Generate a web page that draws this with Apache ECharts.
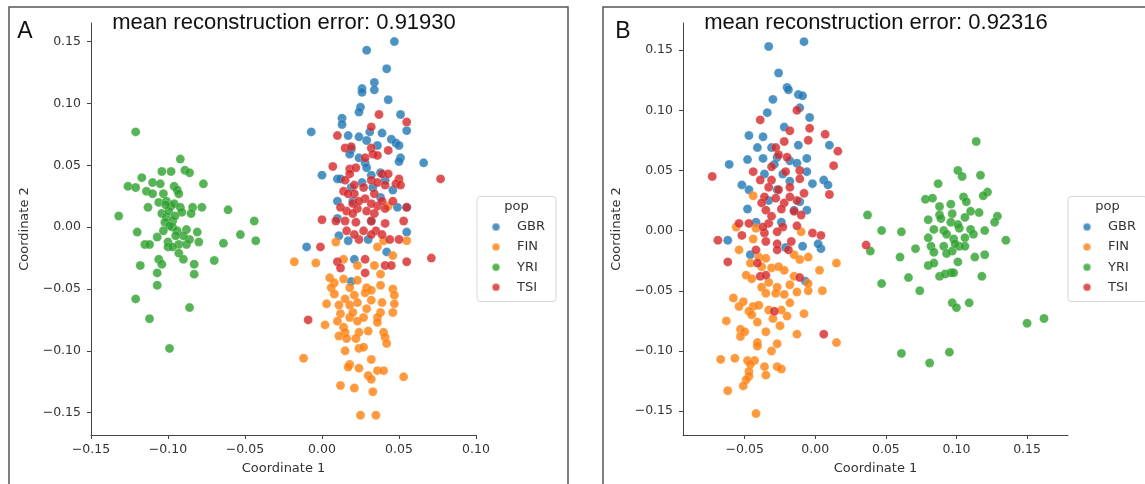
<!DOCTYPE html>
<html>
<head>
<meta charset="utf-8">
<script src="https://cdn.jsdelivr.net/npm/echarts@6/dist/echarts.min.js"></script>
<style>html,body{margin:0;padding:0;background:#fff}#c{width:1145px;height:484px}</style>
</head>
<body>
<div id="c"></div>
<script>
// ---------- data (Coordinate 1, Coordinate 2) ----------
const populations = ['GBR', 'FIN', 'YRI', 'TSI'];
const titlesText = ['mean reconstruction error: 0.91930', 'mean reconstruction error: 0.92316'];
const panelLetters = ['A', 'B'];
const tickValuesX_A = [-0.15, -0.10, -0.05, 0.00, 0.05, 0.10];
const tickValuesX_B = [-0.05, 0.00, 0.05, 0.10, 0.15];
const tickValuesY = [-0.15, -0.10, -0.05, 0.00, 0.05, 0.10, 0.15];

const GBR_A = [[0.047,0.150],[0.029,0.143],[0.042,0.128],[0.034,0.117],[0.034,0.111],[0.026,0.112],[0.026,0.109],[0.043,0.103],[0.025,0.097],[0.024,0.093],[0.051,0.091],[0.013,0.088],[0.013,0.083],[0.055,0.078],[-0.007,0.077],[0.039,0.076],[0.031,0.077],[0.017,0.074],[0.024,0.073],[0.029,0.070],[0.045,0.071],[0.048,0.068],[0.050,0.066],[0.036,0.066],[0.019,0.063],[0.051,0.056],[0.018,0.059],[0.024,0.056],[0.066,0.052],[0.050,0.053],[0.028,0.052],[0.029,0.048],[0.000,0.042],[0.010,0.039],[0.012,0.039],[0.032,0.042],[0.038,0.044],[0.046,0.030],[0.010,0.021],[0.049,0.016],[0.055,0.016],[0.032,0.005],[0.010,0.007],[0.055,-0.004],[0.011,-0.007],[0.017,-0.011],[0.030,-0.010],[-0.010,-0.016],[0.042,-0.020],[0.021,-0.026],[0.019,-0.044],[0.019,0.032],[0.026,0.036],[0.033,0.032],[0.041,0.038],[0.020,0.021],[0.038,0.024]];
const FIN_A = [[-0.018,-0.028],[-0.004,-0.029],[0.009,-0.012],[0.043,0.017],[0.055,-0.011],[0.036,-0.016],[0.014,-0.026],[0.023,-0.031],[0.034,-0.031],[0.046,-0.023],[0.005,-0.041],[0.008,-0.045],[0.006,-0.049],[0.014,-0.042],[0.018,-0.049],[0.023,-0.043],[0.029,-0.049],[0.038,-0.038],[0.038,-0.047],[0.046,-0.050],[0.047,-0.055],[0.008,-0.054],[0.015,-0.058],[0.021,-0.055],[0.028,-0.053],[0.032,-0.059],[0.047,-0.062],[0.003,-0.062],[0.011,-0.063],[0.018,-0.063],[0.023,-0.061],[0.029,-0.066],[0.038,-0.069],[0.046,-0.069],[0.012,-0.070],[0.018,-0.073],[0.023,-0.076],[0.036,-0.073],[0.036,-0.077],[0.002,-0.079],[0.014,-0.081],[0.015,-0.085],[0.024,-0.085],[0.030,-0.084],[0.040,-0.085],[0.011,-0.088],[0.041,-0.089],[0.042,-0.094],[0.015,-0.100],[0.024,-0.098],[-0.012,-0.106],[0.018,-0.111],[0.032,-0.107],[0.017,-0.113],[0.024,-0.114],[0.036,-0.116],[0.040,-0.116],[0.030,-0.120],[0.032,-0.123],[0.053,-0.121],[0.012,-0.128],[0.021,-0.130],[0.033,-0.133],[0.025,-0.152],[0.035,-0.152],[0.010,-0.076],[0.020,-0.069],[0.027,-0.073],[0.032,-0.051],[0.016,-0.090],[0.022,-0.090],[0.027,-0.097],[0.039,-0.061],[0.040,-0.011]];
const YRI_A = [[-0.121,0.077],[-0.092,0.055],[-0.104,0.045],[-0.098,0.045],[-0.089,0.046],[-0.086,0.044],[-0.117,0.040],[-0.077,0.035],[-0.126,0.033],[-0.121,0.032],[-0.110,0.036],[-0.105,0.035],[-0.114,0.029],[-0.110,0.027],[-0.096,0.033],[-0.094,0.030],[-0.093,0.027],[-0.103,0.027],[-0.106,0.020],[-0.101,0.021],[-0.098,0.017],[-0.096,0.019],[-0.092,0.016],[-0.113,0.016],[-0.084,0.016],[-0.078,0.016],[-0.061,0.014],[-0.132,0.009],[-0.104,0.011],[-0.101,0.008],[-0.097,0.005],[-0.091,0.012],[-0.085,0.011],[-0.102,0.004],[-0.097,0.000],[-0.094,-0.003],[-0.088,-0.002],[-0.081,-0.004],[-0.120,-0.004],[-0.107,-0.008],[-0.100,-0.012],[-0.093,-0.014],[-0.088,-0.014],[-0.086,-0.010],[-0.080,-0.012],[-0.115,-0.014],[-0.112,-0.014],[-0.100,-0.016],[-0.064,-0.013],[-0.053,-0.006],[-0.044,0.005],[-0.043,-0.011],[-0.093,-0.021],[-0.090,-0.026],[-0.106,-0.026],[-0.104,-0.030],[-0.118,-0.031],[-0.083,-0.030],[-0.070,-0.027],[-0.107,-0.037],[-0.083,-0.038],[-0.107,-0.047],[-0.121,-0.058],[-0.086,-0.065],[-0.112,-0.074],[-0.099,-0.098],[-0.0995,0.013],[-0.1015,0.018],[-0.0955,0.009],[-0.099,0.001],[-0.103,-0.003],[-0.090,-0.007],[-0.095,-0.007],[-0.097,-0.016]];
const TSI_A = [[0.037,0.091],[0.032,0.081],[0.055,0.085],[0.010,0.074],[0.015,0.064],[0.019,0.065],[0.032,0.064],[0.033,0.059],[0.036,0.058],[0.007,0.049],[0.018,0.047],[0.018,0.043],[0.039,0.043],[0.043,0.043],[0.050,0.039],[0.048,0.035],[0.051,0.034],[0.077,0.039],[0.015,0.038],[0.021,0.034],[0.027,0.032],[0.032,0.038],[0.036,0.036],[0.041,0.034],[0.014,0.029],[0.021,0.027],[0.034,0.027],[0.028,0.023],[0.020,0.019],[0.016,0.013],[0.023,0.015],[0.029,0.013],[0.036,0.017],[0.041,0.015],[0.055,0.016],[0.000,0.006],[0.009,0.005],[0.015,0.005],[0.022,0.004],[0.032,0.005],[0.041,0.003],[0.053,0.005],[0.016,-0.003],[0.035,-0.003],[0.024,-0.010],[0.044,-0.010],[0.050,-0.010],[-0.001,-0.016],[0.071,-0.025],[0.055,-0.028],[0.010,-0.028],[0.012,-0.033],[0.028,-0.026],[0.041,-0.031],[0.045,-0.031],[0.028,-0.037],[-0.009,-0.075],[0.022,0.048],[0.028,0.056],[0.043,0.062],[0.017,0.027],[0.024,0.021],[0.032,0.019],[0.039,0.021],[0.020,0.011],[0.034,0.011],[0.027,-0.003],[0.032,-0.006],[0.039,-0.006],[0.021,-0.006],[0.012,0.016],[0.046,0.021]];

const GBR_B = [[-0.033,0.153],[-0.008,0.157],[-0.026,0.131],[-0.020,0.119],[-0.019,0.117],[-0.030,0.109],[-0.012,0.113],[-0.009,0.112],[-0.034,0.098],[-0.011,0.102],[-0.004,0.094],[-0.022,0.086],[-0.047,0.079],[-0.037,0.078],[-0.041,0.069],[-0.031,0.069],[-0.012,0.071],[0.010,0.071],[-0.048,0.059],[-0.037,0.060],[-0.027,0.061],[-0.018,0.058],[-0.006,0.060],[-0.061,0.055],[-0.029,0.055],[-0.013,0.056],[-0.052,0.038],[-0.047,0.034],[-0.002,0.039],[0.006,0.042],[0.009,0.038],[-0.006,0.049],[-0.048,0.018],[-0.006,0.017],[-0.011,0.024],[-0.042,0.007],[-0.024,0.007],[-0.062,-0.008],[-0.046,-0.020],[-0.021,-0.014],[-0.009,-0.013],[0.004,-0.015],[0.002,-0.011],[-0.007,-0.042],[-0.036,0.047],[-0.023,0.047],[-0.018,0.041],[-0.033,0.025],[-0.027,0.034],[-0.015,0.017]];
const FIN_B = [[-0.044,0.029],[-0.056,0.003],[-0.010,-0.001],[-0.042,0.002],[-0.044,-0.007],[-0.054,-0.016],[-0.040,-0.022],[-0.035,-0.023],[-0.015,-0.020],[-0.011,-0.024],[-0.005,-0.022],[0.015,-0.027],[0.003,-0.033],[-0.038,-0.030],[-0.031,-0.031],[-0.022,-0.033],[-0.049,-0.037],[-0.045,-0.040],[-0.033,-0.043],[-0.027,-0.047],[-0.018,-0.045],[-0.013,-0.051],[-0.005,-0.050],[0.005,-0.050],[-0.038,-0.047],[-0.028,-0.052],[-0.022,-0.053],[-0.058,-0.056],[-0.051,-0.059],[-0.054,-0.063],[-0.044,-0.063],[-0.040,-0.062],[-0.033,-0.066],[-0.018,-0.060],[-0.047,-0.067],[-0.045,-0.070],[-0.024,-0.066],[-0.020,-0.071],[-0.008,-0.069],[-0.063,-0.075],[-0.041,-0.076],[-0.030,-0.073],[-0.025,-0.079],[-0.053,-0.082],[-0.050,-0.084],[-0.053,-0.088],[-0.035,-0.084],[-0.013,-0.086],[-0.041,-0.093],[-0.041,-0.096],[-0.027,-0.094],[-0.031,-0.100],[0.015,-0.093],[-0.067,-0.107],[-0.057,-0.106],[-0.048,-0.108],[-0.043,-0.108],[-0.046,-0.111],[-0.036,-0.113],[-0.027,-0.113],[-0.024,-0.115],[-0.047,-0.117],[-0.035,-0.120],[-0.047,-0.121],[-0.049,-0.124],[-0.051,-0.129],[-0.062,-0.133],[-0.042,-0.152],[-0.026,-0.030],[-0.015,-0.038],[-0.035,-0.052],[-0.046,-0.027],[-0.005,-0.044]];
const YRI_B = [[0.114,0.074],[0.101,0.050],[0.104,0.045],[0.117,0.046],[0.087,0.039],[0.078,0.026],[0.083,0.027],[0.105,0.028],[0.107,0.024],[0.122,0.032],[0.119,0.029],[0.096,0.022],[0.037,0.013],[0.110,0.016],[0.116,0.015],[0.129,0.012],[0.127,0.007],[0.080,0.009],[0.088,0.013],[0.089,0.010],[0.097,0.014],[0.106,0.011],[0.047,0.000],[0.061,-0.001],[0.084,0.001],[0.091,0.000],[0.102,0.002],[0.110,0.001],[0.120,0.000],[0.135,-0.008],[0.039,-0.017],[0.071,-0.015],[0.080,-0.006],[0.093,-0.003],[0.098,-0.007],[0.106,-0.006],[0.112,-0.003],[0.082,-0.013],[0.084,-0.018],[0.091,-0.013],[0.097,-0.017],[0.102,-0.013],[0.099,-0.011],[0.120,-0.020],[0.060,-0.022],[0.113,-0.022],[0.080,-0.029],[0.084,-0.027],[0.101,-0.026],[0.066,-0.039],[0.088,-0.038],[0.092,-0.036],[0.096,-0.035],[0.098,-0.035],[0.118,-0.038],[0.047,-0.044],[0.074,-0.050],[0.097,-0.060],[0.100,-0.064],[0.109,-0.060],[0.150,-0.077],[0.162,-0.073],[0.061,-0.102],[0.095,-0.101],[0.081,-0.110],[0.088,0.020],[0.096,0.007],[0.101,0.005],[0.106,-0.013],[0.093,-0.019]];
const TSI_B = [[-0.073,0.045],[-0.039,0.092],[-0.013,0.100],[-0.018,0.083],[-0.004,0.085],[-0.005,0.075],[0.007,0.080],[0.016,0.066],[0.013,0.054],[0.010,0.030],[-0.028,0.069],[-0.022,0.074],[-0.026,0.063],[-0.044,0.049],[-0.039,0.042],[-0.031,0.042],[-0.021,0.049],[-0.011,0.050],[-0.011,0.043],[-0.033,0.036],[-0.026,0.034],[-0.018,0.036],[-0.008,0.031],[-0.036,0.028],[-0.028,0.027],[-0.022,0.023],[-0.013,0.025],[-0.035,0.017],[-0.024,0.018],[-0.015,0.016],[-0.010,0.013],[-0.054,0.006],[-0.047,0.006],[-0.033,0.006],[-0.023,0.003],[-0.013,0.004],[-0.052,-0.004],[-0.036,-0.002],[-0.027,-0.001],[-0.002,-0.002],[0.004,-0.004],[-0.069,-0.008],[-0.035,-0.009],[-0.027,-0.011],[-0.017,-0.009],[-0.042,-0.016],[-0.027,-0.016],[-0.019,-0.016],[-0.062,-0.026],[-0.041,-0.027],[-0.039,-0.038],[-0.035,-0.037],[-0.011,-0.039],[-0.029,-0.067],[0.006,-0.086],[0.036,-0.012],[-0.031,0.053],[-0.020,0.061],[-0.038,0.023],[-0.018,0.028],[-0.031,0.012],[-0.037,0.003]];

const seriesData = [
  {GBR: GBR_A, FIN: FIN_A, YRI: YRI_A, TSI: TSI_A},
  {GBR: GBR_B, FIN: FIN_B, YRI: YRI_B, TSI: TSI_B}
];
const colors = {GBR: '#1f77b4', FIN: '#ff7f0e', YRI: '#2ca02c', TSI: '#d62728'};

// ---------- chart ----------
const chart = echarts.init(document.getElementById('c'), null, {renderer: 'canvas'});
const fmt = v => (v < -1e-9 ? '\u2212' : '') + Math.abs(v).toFixed(2);
const axisColor = '#444';
const tickFont = {fontFamily: 'DejaVu Sans', fontSize: 12.5, color: '#333'};

function xAxis(grid, min, max, ticks) {
  return {
    type: 'value', gridIndex: grid, min: min, max: max,
    name: 'Coordinate 1', nameLocation: 'middle', nameGap: 27,
    nameTextStyle: {fontFamily: 'DejaVu Sans', fontSize: 13, color: '#333'},
    axisLine: {show: true, onZero: false, lineStyle: {color: axisColor, width: 1}},
    axisTick: {show: true, length: 4, customValues: ticks, lineStyle: {color: axisColor}},
    axisLabel: Object.assign({customValues: ticks, formatter: fmt, margin: 8}, tickFont),
    splitLine: {show: false}
  };
}
function yAxis(grid, min, max) {
  return {
    type: 'value', gridIndex: grid, min: min, max: max,
    name: 'Coordinate 2', nameLocation: 'middle', nameGap: 60,
    nameTextStyle: {fontFamily: 'DejaVu Sans', fontSize: 13, color: '#333'},
    axisLine: {show: true, onZero: false, lineStyle: {color: axisColor, width: 1}},
    axisTick: {show: true, length: 4, customValues: tickValuesY, lineStyle: {color: axisColor}},
    axisLabel: Object.assign({customValues: tickValuesY, formatter: fmt, margin: 10}, tickFont),
    splitLine: {show: false}
  };
}

const series = [];
[0, 1].forEach(p => {
  populations.forEach(pop => {
    series.push({
      type: 'scatter', name: pop, xAxisIndex: p, yAxisIndex: p,
      data: seriesData[p][pop], symbol: 'circle', symbolSize: 9,
      itemStyle: {color: colors[pop], opacity: 0.8, borderColor: 'rgba(255,255,255,0.5)', borderWidth: 0.5},
      emphasis: {disabled: true}, animation: false
    });
  });
});

const legendCfg = (left) => ({
  orient: 'vertical', left: left, top: 220, padding: 0,
  itemWidth: 10, itemHeight: 8, itemGap: 6.1, icon: 'circle',
  textStyle: {fontFamily: 'DejaVu Sans', fontSize: 13, color: '#333', lineHeight: 14, padding: [0, 0, 0, 11]},
  data: populations, selectedMode: false
});

const titleFont = 'Liberation Sans';
const option = {
  animation: false,
  grid: [
    {left: 91, top: 23, width: 385, height: 412},
    {left: 683, top: 23, width: 385, height: 412}
  ],
  xAxis: [xAxis(0, -0.15, 0.10, tickValuesX_A), xAxis(1, -0.0937, 0.179, tickValuesX_B)],
  yAxis: [yAxis(0, -0.168, 0.165), yAxis(1, -0.1698, 0.1725)],
  legend: [legendCfg(491), legendCfg(1082)],
  series: series,
  graphic: [
    {type: 'rect', z: -1, shape: {x: 9, y: 7, width: 559, height: 500}, style: {fill: 'none', stroke: '#555', lineWidth: 1.5}},
    {type: 'rect', z: -1, shape: {x: 603, y: 7, width: 560, height: 500}, style: {fill: 'none', stroke: '#555', lineWidth: 1.5}},
    {type: 'rect', z: 0, shape: {x: 477, y: 196.5, width: 79, height: 105, r: 3}, style: {fill: 'rgba(255,255,255,0.8)', stroke: '#d8d8d8', lineWidth: 1}},
    {type: 'rect', z: 0, shape: {x: 1068, y: 196.5, width: 79, height: 105, r: 3}, style: {fill: 'rgba(255,255,255,0.8)', stroke: '#d8d8d8', lineWidth: 1}},
    {type: 'text', z: 5, style: {x: 516.5, y: 206.5, text: 'pop', textAlign: 'center', textVerticalAlign: 'middle', font: '13px "DejaVu Sans"', fill: '#333'}},
    {type: 'text', z: 5, style: {x: 1107.5, y: 206.5, text: 'pop', textAlign: 'center', textVerticalAlign: 'middle', font: '13px "DejaVu Sans"', fill: '#333'}},
    {type: 'text', z: 5, style: {x: 284, y: 23, text: titlesText[0], textAlign: 'center', textVerticalAlign: 'middle', font: '22px "' + titleFont + '"', fill: '#111'}},
    {type: 'text', z: 5, style: {x: 876, y: 23, text: titlesText[1], textAlign: 'center', textVerticalAlign: 'middle', font: '22px "' + titleFont + '"', fill: '#111'}},
    {type: 'text', z: 5, style: {x: 25, y: 32, text: panelLetters[0], textAlign: 'center', textVerticalAlign: 'middle', font: '23px "' + titleFont + '"', fill: '#111'}},
    {type: 'text', z: 5, style: {x: 623, y: 32, text: panelLetters[1], textAlign: 'center', textVerticalAlign: 'middle', font: '23px "' + titleFont + '"', fill: '#111'}}
  ]
};
chart.setOption(option);
</script>
</body>
</html>
